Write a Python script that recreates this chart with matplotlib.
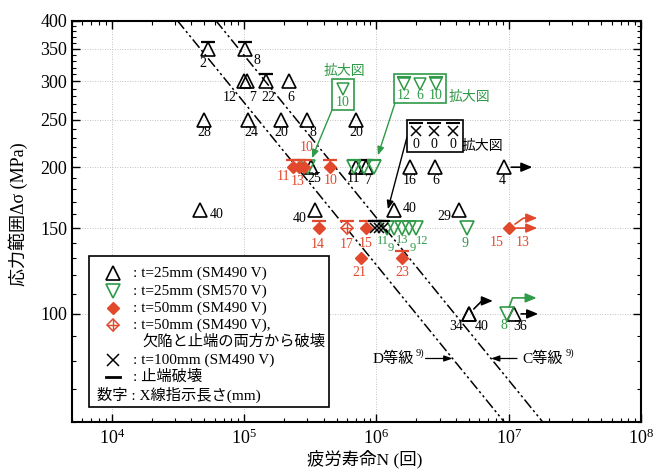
import matplotlib
matplotlib.use("Agg")
import matplotlib.pyplot as plt
import matplotlib.transforms as mtransforms
from matplotlib.patches import Rectangle
from matplotlib.ticker import FixedLocator, NullFormatter, LogLocator
import numpy as np

plt.rcParams['font.family'] = ['Liberation Serif', 'Noto Sans CJK JP']
plt.rcParams['mathtext.fontset'] = 'custom'
plt.rcParams['mathtext.rm'] = 'Liberation Serif'
plt.rcParams['mathtext.it'] = 'Liberation Serif:italic'

W, H = 657, 474
RED = '#e2482b'
GREEN = '#2f9a47'

# t=25mm (SM490 V): cycles, stress range (MPa), X-ray indication length (mm)
a_n = [5.3e4, 1.02e5, 1.0e5, 1.06e5, 1.47e5, 2.17e5,
       4.96e4, 1.07e5, 1.91e5, 2.98e5, 7.04e5,
       3.2e5, 6.95e5, 8.3e5, 1.78e6, 2.79e6, 9.27e6,
       4.6e4, 3.41e5, 1.37e6, 4.19e6,
       5.0e6, 5.0e6, 1.10e7]
a_s = [350, 350, 300, 300, 300, 300,
       250, 250, 250, 250, 250,
       200, 200, 200, 200, 200, 200,
       163, 163, 163, 163,
       100, 100, 100]
a_len = ['2', '8', '12', '7', '22', '6', '28', '24', '20', '8', '20',
         '25', '11', '7', '16', '6', '4', '40', '40', '40', '29', '34', '40', '36']
a_toe = [1, 1, 0, 0, 1, 0, 0, 0, 0, 0, 0, 0, 0, 1, 0, 0, 0, 0, 0, 0, 0, 0, 0, 0]

# t=25mm (SM570 V)
b_n = [3.05e5, 6.8e5, 8.1e5, 9.6e5,
       1.2e6, 1.35e6, 1.55e6, 1.75e6, 2.0e6, 4.87e6, 9.65e6]
b_s = [200, 200, 200, 200, 150, 150, 150, 150, 150, 150, 100]
b_len = ['10', '12', '6', '10', '11', '9', '13', '9', '12', '9', '8']
b_toe = [0, 1, 0, 1, 0, 0, 0, 0, 0, 0, 0]

# t=50mm (SM490 V)
c_n = [2.34e5, 2.58e5, 2.82e5, 4.43e5, 3.68e5, 8.4e5, 7.6e5, 1.57e6, 1.01e7]
c_s = [200, 200, 200, 200, 150, 150, 130, 130, 150]
c_len = ['11', '13', '10', '10', '14', '15', '21', '23', '15']
c_toe = [1, 1, 1, 1, 1, 1, 0, 1, 0]

# t=50mm, failure from both defect and toe
d_n = [6.0e5]
d_s = [150]
d_len = ['17']

# t=100mm (SM490 V)
e_n = [9.8e5, 1.05e6, 1.12e6]
e_s = [150, 150, 150]
e_len = ['0', '0', '0']

# JSSC fatigue classes: strength at 2 million cycles, slope 3
grade_names = ['D等級', 'C等級']
grade_ref = [100, 125]

s_ticks = [100, 150, 200, 250, 300, 350, 400]

# label offsets in pixels (dx right, dy down) for in-plot numbers
a_off = [(-5, 15), (12, 12), (-14, 16), (5, 16), (2, 16), (2, 16),
         (0, 13), (3, 13), (0, 13), (6, 13), (0, 13),
         (3, 11), (-2, 11), (2, 13), (0, 13), (0, 13), (-2, 13),
         (17, 4), (-15, 8), (15, -2), (-14, 6), (-13, 13), (13, 13), (6, 13)]
b_off = [None, None, None, None,
         (-4, 13), (-3, 20), (1, 12), (4, 20), (6, 13), (-2, 15), (-3, 12)]
c_off = [(-9, 9), (-1, 14), (3, -20), (1, 13), (-1, 16), (-1, 15), (-1, 14), (0, 14), (-13, 14)]
d_off = [(0, 16)]

fig = plt.figure(figsize=(W / 100, H / 100), dpi=100)
ax = fig.add_axes([72 / W, 1 - 422 / H, (641 - 72) / W, (422 - 20.5) / H])
ax.set_xscale('log')
ax.set_yscale('log')
ax.set_xlim(5e3, 1e8)
ax.set_ylim(60, 400)

for v in s_ticks[:-1]:
    ax.axhline(v, color='#b0b0b0', lw=0.6, ls=(0, (1, 2)), zorder=0)
for v in [1e4, 1e5, 1e6, 1e7]:
    ax.axvline(v, color='#b0b0b0', lw=0.6, ls=(0, (1, 2)), zorder=0)

ax.set_yticks(s_ticks, labels=[str(v) for v in s_ticks])
ax.yaxis.set_minor_locator(FixedLocator([v for v in range(60, 400, 10) if v not in s_ticks]))
ax.yaxis.set_minor_formatter(NullFormatter())
ax.xaxis.set_major_locator(LogLocator(base=10, numticks=10))
ax.xaxis.set_minor_locator(LogLocator(base=10, subs=np.arange(2, 10), numticks=40))
ax.xaxis.set_minor_formatter(NullFormatter())
ax.tick_params(which='both', direction='in', top=True, right=True, labelsize=13)
ax.tick_params(which='major', length=6, width=1)
ax.tick_params(which='minor', length=3, width=0.8)
ax.tick_params(axis='x', pad=5)
for sp in ax.spines.values():
    sp.set_linewidth(1.5)

# design curves
for name, ref in zip(grade_names, grade_ref):
    s_end = np.array([400, 60])
    ax.plot(2e6 * (ref / s_end) ** 3, s_end, color='black', lw=1.1,
            ls=(0, (7, 2, 1.5, 2, 1.5, 2)), zorder=1)

bar_tr = mtransforms.offset_copy(ax.transData, fig=fig, x=0, y=7, units='dots')


def toe_bars(n, s, flags, color):
    n = np.array(n)[np.array(flags, bool)]
    s = np.array(s)[np.array(flags, bool)]
    ax.plot(n, s, ls='none', marker='_', ms=10, mew=1.6, color=color, transform=bar_tr, zorder=4)


def labels(n, s, texts, offs, color, size=10):
    for x, y, t, o in zip(n, s, texts, offs):
        if o is None:
            continue
        ax.annotate(t, (x, y), xytext=(o[0], -o[1]), textcoords='offset pixels',
                    ha='center', va='center', fontsize=size, color=color)


def runout(x, y, color, dx=28, dy=0, bend=None):
    cs = 'arc3' if bend is None else 'angle,angleA=0,angleB=%d,rad=0' % bend
    ax.annotate('', xy=(x, y), xytext=(dx, dy), textcoords='offset pixels',
                arrowprops=dict(arrowstyle='<|-,head_length=0.6,head_width=0.25', color=color,
                                lw=1.2, shrinkA=0, shrinkB=5, mutation_scale=11,
                                connectionstyle=cs))


ax.plot(a_n, a_s, ls='none', marker='^', ms=9.5, mfc='none', mec='black', mew=1.2, zorder=3)
ax.plot(b_n, b_s, ls='none', marker='v', ms=9.5, mfc='none', mec=GREEN, mew=1.2, zorder=3)
ax.plot(c_n, c_s, ls='none', marker='D', ms=6.5, color=RED, zorder=3)
ax.plot(d_n, d_s, ls='none', marker='D', ms=6.5, mfc='white', mec=RED, mew=1.1, zorder=3)
ax.plot(d_n, d_s, ls='none', marker='+', ms=9, mec=RED, mew=1.0, zorder=3)
ax.plot(e_n, e_s, ls='none', marker='x', ms=7, mec='black', mew=1.1, zorder=3)

toe_bars(a_n, a_s, a_toe, 'black')
toe_bars(b_n, b_s, b_toe, GREEN)
toe_bars(c_n, c_s, c_toe, RED)
toe_bars(d_n, d_s, [1], RED)
toe_bars(e_n, e_s, [1, 1, 1], 'black')

labels(a_n, a_s, a_len, a_off, 'black')
labels(b_n[:4], b_s[:4], b_len[:4], b_off[:4], GREEN)
labels(b_n[4:9], b_s[4:9], b_len[4:9], b_off[4:9], GREEN, size=9)
labels(b_n[9:], b_s[9:], b_len[9:], b_off[9:], GREEN)
labels(c_n, c_s, c_len, c_off, RED)
labels(c_n[-1:], c_s[-1:], ['13'], [(13, 14)], RED)
labels(d_n, d_s, d_len, d_off, RED)

# run-outs
runout(a_n[16], a_s[16], 'black')
runout(a_n[21], a_s[21], 'black', dx=24, dy=13, bend=45)
runout(a_n[23], a_s[23], 'black', dx=24)
runout(b_n[10], b_s[10], GREEN, dx=30, dy=16, bend=70)
runout(c_n[8], c_s[8], RED, dx=28, dy=10, bend=35)
runout(c_n[8], c_s[8], RED, dx=28)

# class labels with arrows onto the design curves
s_lab = 81
n_d = 2e6 * (grade_ref[0] / s_lab) ** 3
n_c = 2e6 * (grade_ref[1] / s_lab) ** 3
arr = dict(arrowstyle='-|>,head_length=0.5,head_width=0.18', color='black', lw=0.9,
           shrinkA=0, shrinkB=0, mutation_scale=10)
ax.annotate('', xy=(n_d, s_lab), xytext=(-27, 0), textcoords='offset pixels', arrowprops=arr)
ax.annotate('', xy=(n_c, s_lab), xytext=(26, 0), textcoords='offset pixels', arrowprops=arr)
ax.annotate(grade_names[0], (n_d, s_lab), xytext=(-39, 0), textcoords='offset pixels',
            ha='right', va='center', fontsize=11)
ax.annotate('9)', (n_d, s_lab), xytext=(-28, 5), textcoords='offset pixels',
            ha='right', va='center', fontsize=7.5)
ax.annotate(grade_names[1], (n_c, s_lab), xytext=(31, 0), textcoords='offset pixels',
            ha='left', va='center', fontsize=11)
ax.annotate('9)', (n_c, s_lab), xytext=(75, 5), textcoords='offset pixels',
            ha='left', va='center', fontsize=7.5)

fig.text(365 / W, 1 - 459 / H, '疲労寿命N (回)', ha='center', va='center', fontsize=12.5)
fig.text(18 / W, 1 - 214 / H, '応力範囲Δσ (MPa)', ha='center', va='center', fontsize=13,
         rotation=90)

# overlay in pixel coordinates for the callout boxes and the key
ov = fig.add_axes([0, 0, 1, 1], facecolor='none')
ov.set_xlim(0, W)
ov.set_ylim(H, 0)
ov.axis('off')


def callout(x0, y0, w, h, color, marker, xs, texts, bars, note_xy):
    ov.add_patch(Rectangle((x0, y0), w, h, fc='white', ec=color, lw=1.2))
    for x, t, b in zip(xs, texts, bars):
        if marker == 'x':
            ov.plot(x, y0 + 11, marker='x', ms=7, mec=color, mew=1.1)
        else:
            ov.plot(x, y0 + 10, marker=marker, ms=8.5, mfc='none', mec=color, mew=1.1)
        if b:
            ov.plot([x - 6, x + 6], [y0 + 3, y0 + 3], color=color, lw=1.5)
        ov.text(x, y0 + h - 8, t, ha='center', va='center', fontsize=10, color=color)
    ov.text(note_xy[0], note_xy[1], '拡大図', ha='center', va='center', fontsize=10, color=color)


callout(332, 79, 22, 31, GREEN, 'v', [343], [b_len[0]], [0], (344, 71))
callout(394, 74, 52, 29, GREEN, 'v', [404, 420, 436], b_len[1:4], b_toe[1:4], (469, 97))
callout(407, 120, 56, 32, 'black', 'x', [416, 434, 453], e_len, [1, 1, 1], (482, 146))

pointer = dict(arrowstyle='-|>,head_length=0.5,head_width=0.2', lw=1.0, shrinkA=0,
               mutation_scale=10)
ax.annotate('', xy=(b_n[0], b_s[0]), xytext=(332, H - 110), textcoords='figure pixels',
            arrowprops=dict(pointer, color=GREEN, shrinkB=7))
ax.annotate('', xy=(b_n[3], b_s[3]), xytext=(395, H - 103), textcoords='figure pixels',
            arrowprops=dict(pointer, color=GREEN, shrinkB=9))
ax.annotate('', xy=(e_n[2], e_s[2]), xytext=(407, H - 137), textcoords='figure pixels',
            arrowprops=dict(pointer, color='black', shrinkB=14))

# key
ov.add_patch(Rectangle((89, 256), 240, 151, fc='white', ec='black', lw=1.2))
kx, tx = 113, 133
ov.plot(kx, 273, marker='^', ms=9.5, mfc='none', mec='black', mew=1.2)
ov.plot(kx, 291, marker='v', ms=9.5, mfc='none', mec=GREEN, mew=1.2)
ov.plot(kx, 308, marker='D', ms=6.5, color=RED)
ov.plot(kx, 325, marker='D', ms=6.5, mfc='white', mec=RED, mew=1.1)
ov.plot(kx, 325, marker='+', ms=9, mec=RED, mew=1.0)
ov.plot(kx, 360, marker='x', ms=8, mec='black', mew=1.1)
ov.plot([kx - 7, kx + 7], [377, 377], color='black', lw=2)
key_rows = [(273, ': t=25mm (SM490 V)'), (291, ': t=25mm (SM570 V)'),
            (308, ': t=50mm (SM490 V)'), (325, ': t=50mm (SM490 V),'),
            (360, ': t=100mm (SM490 V)'), (377, ': 止端破壊')]
for y, t in key_rows:
    ov.text(tx, y, t, ha='left', va='center', fontsize=11)
ov.text(142, 342, '欠陥と止端の両方から破壊', ha='left', va='center', fontsize=11)
ov.text(97, 395, '数字 : X線指示長さ(mm)', ha='left', va='center', fontsize=11)

fig.savefig('out.png', dpi=100)
